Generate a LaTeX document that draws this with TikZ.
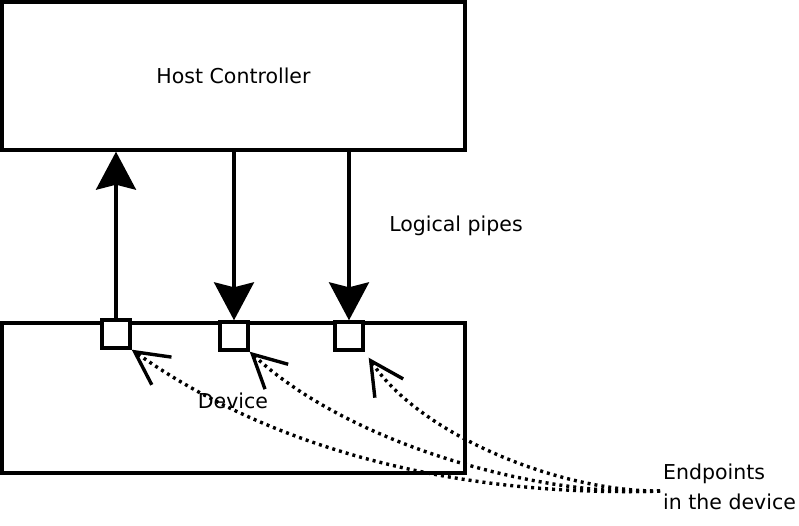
\documentclass[tikz,border=0pt]{standalone}
\usepackage{fontspec}
\setmainfont{DejaVu Sans}
\usetikzlibrary{arrows.meta, positioning}

\begin{document}
\begin{tikzpicture}[x=1pt, y=-1pt,
    box/.style={draw, line width=3.4pt, inner sep=0pt},
    port/.style={draw, fill=white, line width=3.4pt, minimum size=28pt, inner sep=0pt},
    pipe/.style={line width=3.4pt, -{Stealth[length=38pt, width=40pt, inset=5pt]}},
    pointer/.style={line width=3.4pt, dash pattern=on 3pt off 4pt,
        -{Straight Barb[length=33pt, width=34pt, line width=3.4pt]}},
    every node/.style={font=\fontsize{20.5}{30}\selectfont},
]
\useasboundingbox (0,0) rectangle (799,525);

% Boxes
\node[box, minimum width=463pt, minimum height=148pt] (host) at (233.5,76) {Host Controller};
\node[box, minimum width=463pt, minimum height=150pt] (device) at (233.5,398) {};
\node at (233,401) {Device};

% Endpoints on the device edge
\node[port] (ep1) at (116,334) {};
\node[port] (ep2) at (234,336) {};
\node[port] (ep3) at (349,336) {};

% Logical pipes
\draw[pipe] (ep1.north) -- (host.south -| ep1.north);
\draw[pipe] (host.south -| ep2.north) -- (ep2.north);
\draw[pipe] (host.south -| ep3.north) -- (ep3.north);
\node (pipes) at (456,226) {Logical pipes};

% Labels for the endpoints
\node[align=left, anchor=west, inner sep=0pt] (eplabel) at (663,487) {Endpoints\\in the device};
\coordinate (fan) at (660,491);

\draw[pointer] (fan) .. controls (470,497) and (280,455) .. (ep1.south east);
\draw[pointer] (fan) .. controls (540,497) and (350,445) .. (ep2.south east);
\draw[pointer] (fan) .. controls (560,492) and (420,435) .. ([shift={(4,6)}]ep3.south east);

\end{tikzpicture}
\end{document}
